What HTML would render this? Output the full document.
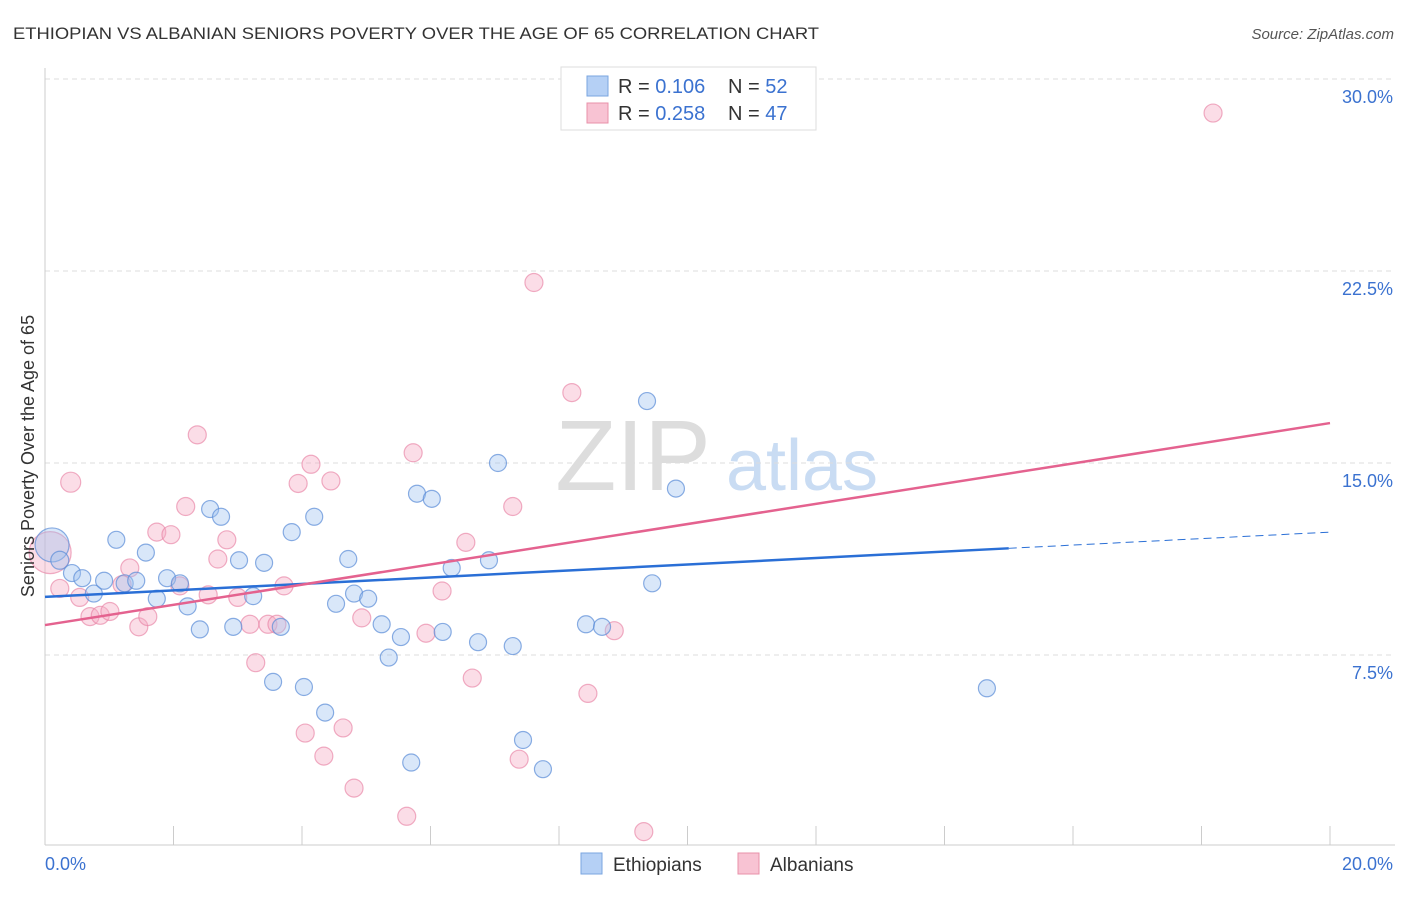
<!DOCTYPE html>
<html><head><meta charset="utf-8"><style>
body{margin:0;background:#fff;font-family:"Liberation Sans",sans-serif;}
svg text{font-family:"Liberation Sans",sans-serif;}
</style></head><body>
<svg id="chart" width="1406" height="892" xmlns="http://www.w3.org/2000/svg">
<text x="13" y="39" font-size="17" fill="#333" textLength="806" lengthAdjust="spacingAndGlyphs">ETHIOPIAN VS ALBANIAN SENIORS POVERTY OVER THE AGE OF 65 CORRELATION CHART</text>
<text x="1394" y="39" font-size="15" fill="#555" text-anchor="end" font-style="italic">Source: ZipAtlas.com</text>
<g>
<text x="633" y="490" font-size="100" fill="#ddd" font-family="Liberation Serif,serif" text-anchor="middle">ZIP</text>
<text x="802" y="490" font-size="72" fill="#c9dcf3" text-anchor="middle">atlas</text>
</g>
<g id="grid"></g>
<g id="axes"></g>
<g id="marks"></g>
<text transform="translate(34,456) rotate(-90)" font-size="18" fill="#333" text-anchor="middle">Seniors Poverty Over the Age of 65</text>
<g>
<rect x="561" y="67" width="255" height="63" fill="#fff" stroke="#ddd"/>
<rect x="587" y="76" width="21" height="20" fill="#b5d0f5" stroke="#7aa6e0"/>
<rect x="587" y="103" width="21" height="20" fill="#f8c3d3" stroke="#e890aa"/>
<text x="618" y="93" font-size="20" fill="#333">R = <tspan fill="#3b72d0">0.106</tspan></text>
<text x="728" y="93" font-size="20" fill="#333">N = <tspan fill="#3b72d0">52</tspan></text>
<text x="618" y="120" font-size="20" fill="#333">R = <tspan fill="#3b72d0">0.258</tspan></text>
<text x="728" y="120" font-size="20" fill="#333">N = <tspan fill="#3b72d0">47</tspan></text>
</g>
<g>
<rect x="581" y="853" width="21" height="21" fill="#b5d0f5" stroke="#7aa6e0"/>
<text x="613" y="871" font-size="19" fill="#333">Ethiopians</text>
<rect x="738" y="853" width="21" height="21" fill="#f8c3d3" stroke="#e890aa"/>
<text x="770" y="871" font-size="19" fill="#333">Albanians</text>
</g>
</svg>
<script>
const yTicks=[7.5,15,22.5,30];
const yTickLabels=["7.5%","15.0%","22.5%","30.0%"];
const xTickLabels=["0.0%","20.0%"];
const blueX=[0.11,0.23,0.42,0.58,0.76,0.92,1.11,1.24,1.42,1.57,1.74,1.90,2.10,2.22,2.41,2.57,2.74,2.93,3.02,3.24,3.41,3.55,3.67,3.84,4.03,4.19,4.36,4.53,4.72,4.81,5.03,5.24,5.35,5.54,5.70,5.79,6.02,6.19,6.33,6.74,6.91,7.05,7.28,7.44,7.75,8.42,8.67,9.37,9.45,9.82,11.69,14.66];
const blueY=[11.8,11.2,10.7,10.5,9.9,10.4,12.0,10.3,10.4,11.5,9.7,10.5,10.3,9.4,8.5,13.2,12.9,8.6,11.2,9.8,11.1,6.45,8.6,12.3,6.25,12.9,5.25,9.5,11.25,9.9,9.7,8.7,7.4,8.2,3.3,13.8,13.6,8.4,10.9,8.0,11.2,15.0,7.85,4.18,3.04,8.7,8.6,17.42,10.3,14.0,29.0,6.2];
const blueR=[17,9,8.5,8.5,8.5,8.5,8.5,8.5,8.5,8.5,8.5,8.5,8.5,8.5,8.5,8.5,8.5,8.5,8.5,8.5,8.5,8.5,8.5,8.5,8.5,8.5,8.5,8.5,8.5,8.5,8.5,8.5,8.5,8.5,8.5,8.5,8.5,8.5,8.5,8.5,8.5,8.5,8.5,8.5,8.5,8.5,8.5,8.5,8.5,8.5,8.5,8.5];
const pinkX=[0.08,0.23,0.40,0.54,0.70,0.86,1.01,1.20,1.32,1.46,1.60,1.74,1.96,2.10,2.19,2.37,2.54,2.69,2.83,3.00,3.19,3.28,3.47,3.61,3.72,3.94,4.05,4.14,4.34,4.45,4.64,4.81,4.93,5.63,5.73,5.93,6.18,6.55,6.65,7.28,7.38,7.61,8.20,8.45,8.86,9.32,18.18];
const pinkY=[11.5,10.1,14.25,9.75,9.0,9.05,9.2,10.25,10.9,8.6,9.0,12.3,12.2,10.2,13.3,16.1,9.85,11.25,12.0,9.75,8.7,7.2,8.7,8.7,10.2,14.2,4.45,14.95,3.55,14.3,4.65,2.3,8.95,1.2,15.4,8.35,10.0,11.9,6.6,13.3,3.43,22.05,17.75,6.0,8.45,0.6,28.67];
const pinkR=[21,9,10,9,9,9,9,9,9,9,9,9,9,9,9,9,9,9,9,9,9,9,9,9,9,9,9,9,9,9,9,9,9,9,9,9,9,9,9,9,9,9,9,9,9,9,9];
const blueTrend=[9.77,12.3];
const blueSolidEnd=15.0;
const pinkTrend=[8.67,16.56];
const NS="http://www.w3.org/2000/svg";
const X0=45,X1=1330,Y0=847,PXY=25.6;
const xs=v=>X0+(v/20)*(X1-X0);
const ys=v=>Y0-v*PXY;
function mk(tag,attrs,parent){const e=document.createElementNS(NS,tag);for(const k in attrs)e.setAttribute(k,attrs[k]);parent.appendChild(e);return e;}
const grid=document.getElementById('grid'),axes=document.getElementById('axes'),marks=document.getElementById('marks');
yTicks.forEach((t,i)=>{
 const l=mk('line',{x1:X0,x2:1395,y1:ys(t),y2:ys(t),stroke:'#ddd','stroke-dasharray':'5,4'},grid);
 
 
 const tx=mk('text',{x:1393,y:ys(t)+24,'font-size':18,fill:'#3b72d0','text-anchor':'end'},axes);
 tx.textContent=yTickLabels[i];
 
 
});
let a=mk('line',{x1:X0,x2:X0,y1:68,y2:845,stroke:'#ccc'},axes);


a=mk('line',{x1:X0,x2:1395,y1:845,y2:845,stroke:'#ccc'},axes);


for(let i=0;i<=10;i++){
 const t=mk('line',{x1:xs(i*2),x2:xs(i*2),y1:826,y2:845,stroke:'#ccc'},axes);
 
 
}
[[0,'start',45],[20,'end',1393]].forEach((d,i)=>{
 const tx=mk('text',{x:d[2],y:870,'font-size':18,fill:'#3b72d0','text-anchor':d[1]},axes);
 tx.textContent=xTickLabels[i];
 
 
});
pinkX.forEach((x,i)=>{
 const c=mk('circle',{cx:xs(x),cy:ys(pinkY[i]),r:pinkR[i],fill:'rgba(245,170,195,0.4)',stroke:'rgba(232,130,165,0.65)','stroke-width':1.2},marks);
 
 
});
blueX.forEach((x,i)=>{
 const c=mk('circle',{cx:xs(x),cy:ys(blueY[i]),r:blueR[i],fill:'rgba(160,195,240,0.4)',stroke:'rgba(90,140,215,0.7)','stroke-width':1.2},marks);
 
 
});
const by=x=>blueTrend[0]+(blueTrend[1]-blueTrend[0])*x/20;
let tl=mk('line',{x1:xs(0),y1:ys(blueTrend[0]),x2:xs(blueSolidEnd),y2:ys(by(blueSolidEnd)),stroke:'#2a6fd6','stroke-width':2.5},marks);


tl=mk('line',{x1:xs(blueSolidEnd),y1:ys(by(blueSolidEnd)),x2:xs(20),y2:ys(blueTrend[1]),stroke:'#2a6fd6','stroke-width':1,'stroke-dasharray':'8,5'},marks);


tl=mk('line',{x1:xs(0),y1:ys(pinkTrend[0]),x2:xs(20),y2:ys(pinkTrend[1]),stroke:'#e4628f','stroke-width':2.5},marks);


</script>
</body></html>
